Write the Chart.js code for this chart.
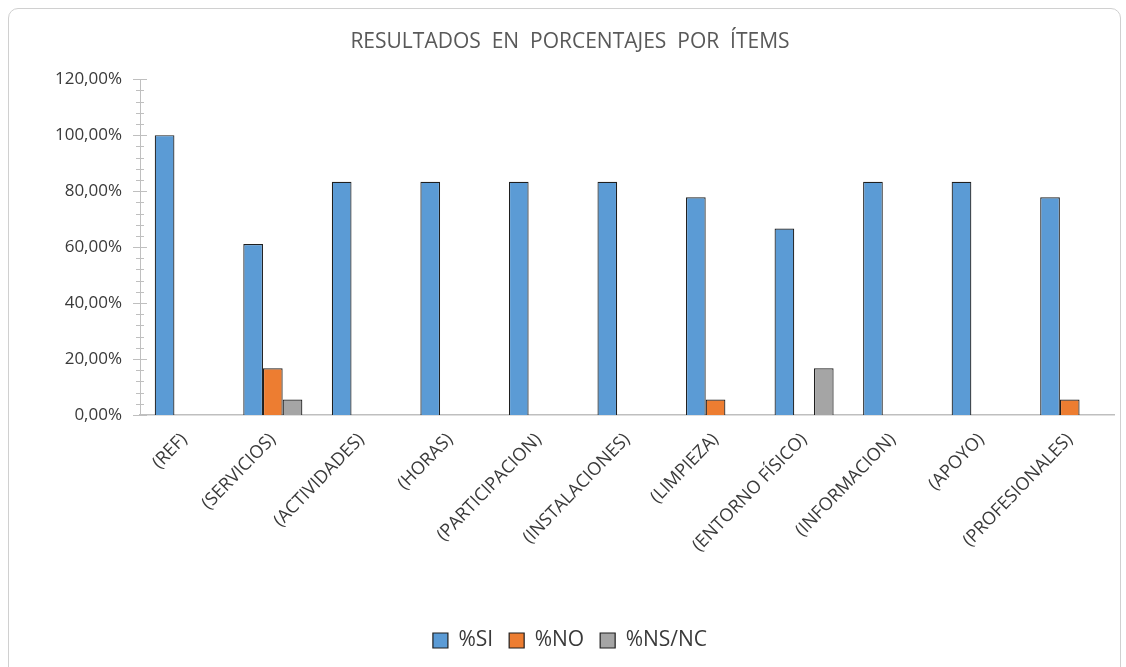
<!DOCTYPE html>
<html>
<head>
<meta charset="utf-8">
<script src="https://cdn.jsdelivr.net/npm/chart.js@4"></script>
<style>
  html, body { margin: 0; padding: 0; background: #fff; }
  #frame {
    position: absolute; left: 8px; top: 8px; width: 1113px; height: 680px;
    border: 1px solid #d0d0d0; border-radius: 10px; box-sizing: border-box;
  }
  #wrap { position: absolute; left: 0; top: 0; width: 1126px; height: 667px; }
</style>
</head>
<body>
<div id="frame"></div>
<div id="wrap"><canvas id="chart"></canvas></div>
<script>
const categories = ['(REF)', '(SERVICIOS)', '(ACTIVIDADES)', '(HORAS)', '(PARTICIPACION)',
    '(INSTALACIONES)', '(LIMPIEZA)', '(ENTORNO FÍSICO)', '(INFORMACION)', '(APOYO)', '(PROFESIONALES)'];
const si   = [100, 61.11, 83.33, 83.33, 83.33, 83.33, 77.78, 66.67, 83.33, 83.33, 77.78];
const no   = [0, 16.67, 0, 0, 0, 0, 5.56, 0, 0, 0, 5.56];
const nsnc = [0, 5.56, 0, 0, 0, 0, 0, 16.67, 0, 0, 0];
const seriesNames = ['%SI', '%NO', '%NS/NC'];

const FONT = 'Open Sans';
const TEXT = '#3a3a3a';
const AXIS = '#bfbfbf';

// tick marks crossing the y axis: long every 20%, short every 4%
const yTicksPlugin = {
    id: 'yTicks',
    afterDraw(chart) {
        const y = chart.scales.y;
        const c = chart.ctx;
        const x0 = y.right;
        c.save();
        c.strokeStyle = AXIS;
        c.lineWidth = 1;
        for (let v = 0; v <= 120; v += 4) {
            const py = Math.round(y.getPixelForValue(v)) + 0.5;
            const major = v % 20 === 0;
            c.beginPath();
            c.moveTo(x0 - (major ? 7 : 4), py);
            c.lineTo(x0 + (major ? 7 : 4), py);
            c.stroke();
        }
        c.restore();
    }
};

const ctx = document.getElementById('chart').getContext('2d');
const chart = new Chart(ctx, {
    type: 'bar',
    data: {
        labels: categories,
        datasets: [
            { label: seriesNames[0], data: si, backgroundColor: '#5B9BD5', borderColor: '#1f1f1f', borderWidth: 1.2 },
            { label: seriesNames[1], data: no, backgroundColor: '#ED7D31', borderColor: '#1f1f1f', borderWidth: 1.2 },
            { label: seriesNames[2], data: nsnc, backgroundColor: '#A5A5A5', borderColor: '#1f1f1f', borderWidth: 1.2 }
        ]
    },
    options: {
        responsive: true,
        maintainAspectRatio: false,
        animation: false,
        layout: { padding: { left: 26, right: 12, top: 0, bottom: 6 } },
        datasets: { bar: { categoryPercentage: 0.667, barPercentage: 1 } },
        plugins: {
            title: {
                display: true,
                text: 'RESULTADOS  EN  PORCENTAJES  POR  ÍTEMS',
                color: '#595959',
                font: { family: FONT, size: 21, weight: 'normal', lineHeight: 1.2 },
                padding: { top: 29, bottom: 25 }
            },
            legend: {
                position: 'bottom',
                labels: {
                    color: TEXT,
                    font: { family: FONT, size: 21 },
                    boxWidth: 15,
                    boxHeight: 15,
                    padding: 16
                }
            },
            tooltip: { enabled: false }
        },
        scales: {
            x: {
                grid: { display: false },
                border: { color: AXIS, width: 1.5 },
                ticks: {
                    color: TEXT,
                    font: { family: FONT, size: 18 },
                    minRotation: 46,
                    maxRotation: 46,
                    padding: 6
                },
                afterFit(scale) { scale.height = 199; }
            },
            y: {
                min: 0,
                max: 120,
                grid: { display: false },
                border: { color: AXIS, width: 1 },
                ticks: {
                    stepSize: 20,
                    color: TEXT,
                    font: { family: FONT, size: 17 },
                    padding: 10,
                    callback: v => v.toFixed(2).replace('.', ',') + '%'
                },
                afterFit(scale) { scale.width = 114; }
            }
        }
    },
    plugins: [yTicksPlugin]
});
</script>
</body>
</html>
